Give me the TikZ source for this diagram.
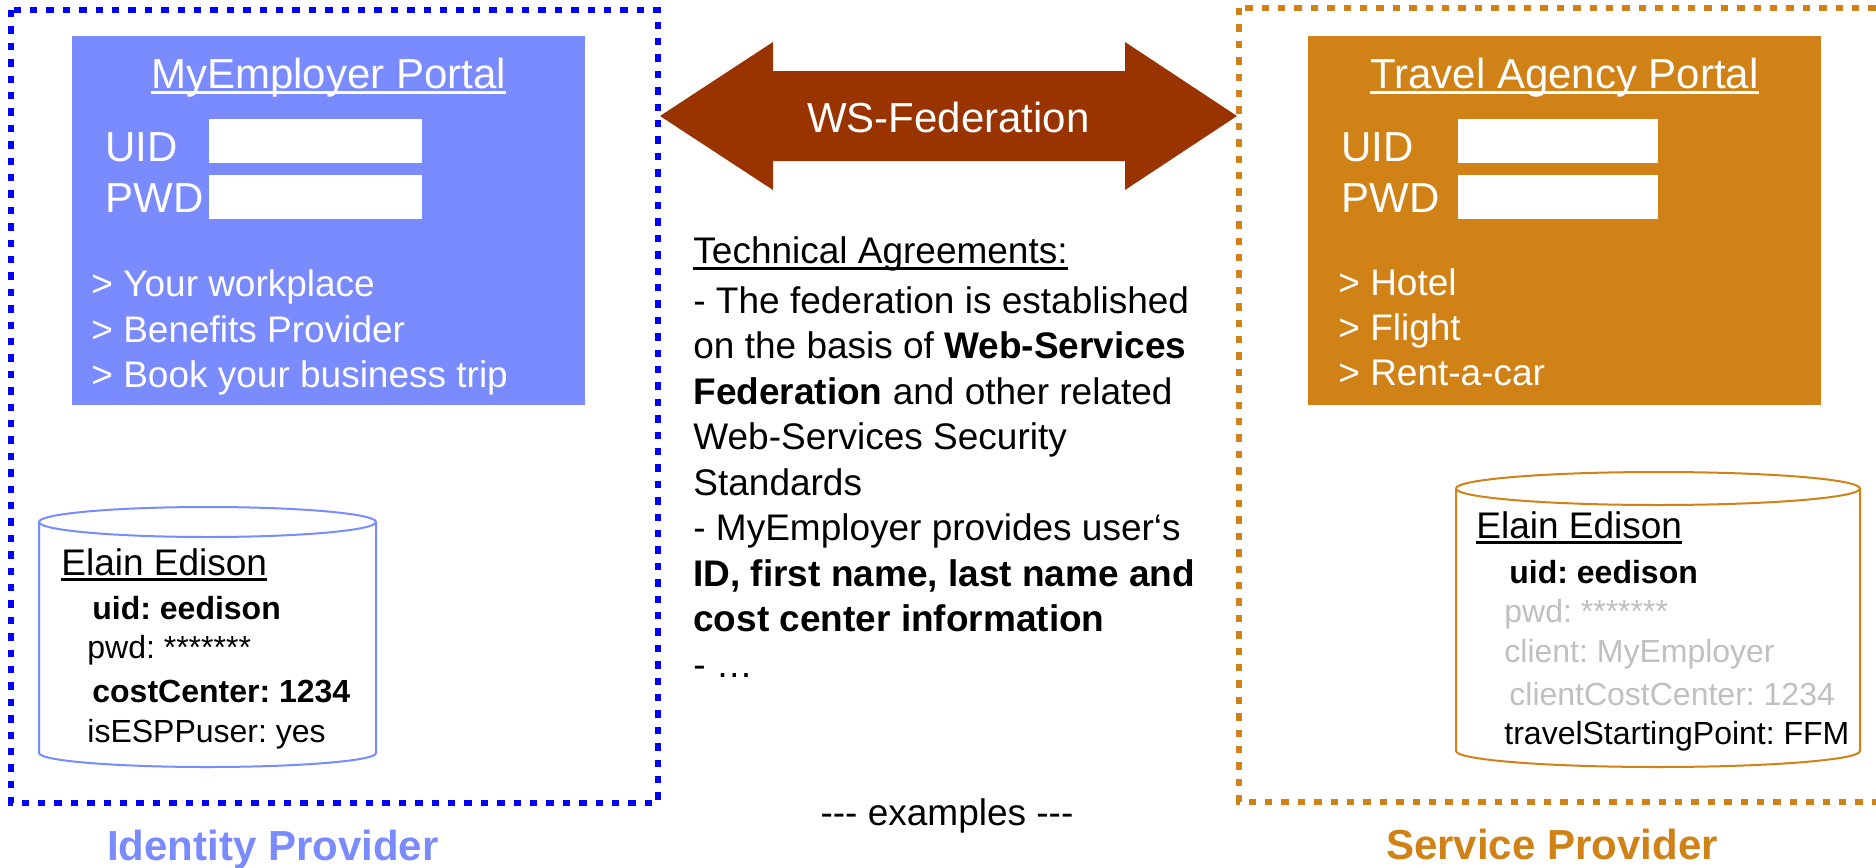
\documentclass[tikz,border=0pt]{standalone}
\usepackage{fontspec}
\setmainfont{Liberation Sans}
\frenchspacing
\definecolor{idp}{RGB}{122,138,255}
\definecolor{sp}{RGB}{208,130,22}
\definecolor{fed}{RGB}{153,51,0}
\definecolor{faded}{RGB}{192,192,192}
\newsavebox\undlbox
\newcommand{\undl}[1]{\sbox\undlbox{#1}\rlap{\rule[-3pt]{\wd\undlbox}{1.4pt}}\usebox\undlbox}

\begin{document}
\begin{tikzpicture}[x=0.5pt,y=-0.5pt]
\tikzstyle{txt}=[inner sep=0pt,anchor=base west]
\tikzstyle{big}=[font=\fontsize{21}{25}\selectfont]
\tikzstyle{mid}=[font=\fontsize{18.5}{22.75}\selectfont]
\tikzstyle{small}=[font=\fontsize{16}{19}\selectfont]
\tikzstyle{dotbox}=[line width=3.4pt,dash pattern=on 3.7pt off 4.5pt]
\tikzstyle{cyl}=[line width=1pt,fill=white]
\useasboundingbox (0,0) rectangle (1876,868);

% identity provider side
\draw[dotbox,draw=blue] (11,10) rectangle (658,803);
\fill[idp] (72,36) rectangle (585,405);
\fill[white] (209,119) rectangle (422,163);
\fill[white] (209,175) rectangle (422,219);
\node[txt,big,white,anchor=base] (MEP) at (328.5,88) {\undl{MyEmployer Portal}};
\node[txt,big,white] (UIDa) at (105,161) {UID};
\node[txt,big,white] (PWDa) at (105,212) {PWD};
\node[txt,mid,white] (wp) at (91,296) {> Your workplace};
\node[txt,mid,white] (bp) at (91,342) {> Benefits Provider};
\node[txt,mid,white] (bt) at (91,387) {> Book your business trip};
\draw[cyl,draw=idp] (39,522) -- (39,753) arc[start angle=180,end angle=360,x radius=84.25pt,y radius=7pt] -- (376,522);
\draw[cyl,draw=idp] (207.5,522) ellipse[x radius=84.25pt,y radius=7.5pt];
\node[txt,mid] (EEa) at (61,575) {\undl{Elain Edison}};
\node[txt,small] (uida) at (92,619) {\textbf{uid: eedison}};
\node[txt,small] (pwda) at (87,658) {pwd: *******};
\node[txt,small] (cca) at (92,702) {\textbf{costCenter: 1234}};
\node[txt,small] (espp) at (87,742) {isESPPuser: yes};
\node[txt,big,idp,anchor=base] (IdP) at (273,860) {\textbf{Identity Provider}};

% federation
\fill[fed] (660,116) -- (773,42) -- (773,71) -- (1125,71) -- (1125,42) -- (1237,116)
  -- (1125,190) -- (1125,161) -- (773,161) -- (773,190) -- cycle;
\node[txt,big,white,anchor=base] (WSF) at (948.5,132) {WS-Federation};
\node[txt,mid,anchor=north west,align=left] (TA) at (693,236.5) {\undl{Technical Agreements:}\\[2pt]
- The federation is established\\
on the basis of \textbf{Web-Services}\\
\textbf{Federation} and other related\\
Web-Services Security\\
Standards\\
- MyEmployer provides user‘s\\
\textbf{ID, first name, last name and}\\
\textbf{cost center information}\\
- …};
\node[txt,mid,anchor=base] (ex) at (947,825) {-{}-{}- examples -{}-{}-};

% service provider side
\draw[dotbox,draw=sp] (1239,8) rectangle (1895,802);
\fill[sp] (1308,36) rectangle (1821,405);
\fill[white] (1458,119) rectangle (1658,163);
\fill[white] (1458,175) rectangle (1658,219);
\node[txt,big,white,anchor=base] (TAP) at (1564.5,88) {\undl{Travel Agency Portal}};
\node[txt,big,white] (UIDb) at (1341,161) {UID};
\node[txt,big,white] (PWDb) at (1341,212) {PWD};
\node[txt,mid,white] (ho) at (1338,295) {> Hotel};
\node[txt,mid,white] (fl) at (1338,340) {> Flight};
\node[txt,mid,white] (rc) at (1338,385) {> Rent-a-car};
\draw[cyl,draw=sp] (1456,488.5) -- (1456,751) arc[start angle=180,end angle=360,x radius=101pt,y radius=8pt] -- (1860,488.5);
\draw[cyl,draw=sp] (1658,488.5) ellipse[x radius=101pt,y radius=8.25pt];
\node[txt,mid] (EEb) at (1476,538) {\undl{Elain Edison}};
\node[txt,small] (uidb) at (1509,583) {\textbf{uid: eedison}};
\node[txt,small,faded] (pwdb) at (1504,622) {pwd: *******};
\node[txt,small,faded] (cl) at (1504,662) {client: MyEmployer};
\node[txt,small,faded] (ccc) at (1509,705) {clientCostCenter: 1234};
\node[txt,small] (tsp) at (1504,744) {travelStartingPoint: FFM};
\node[txt,big,sp,anchor=base] (SvP) at (1552,859) {\textbf{Service Provider}};
\end{tikzpicture}
\end{document}
